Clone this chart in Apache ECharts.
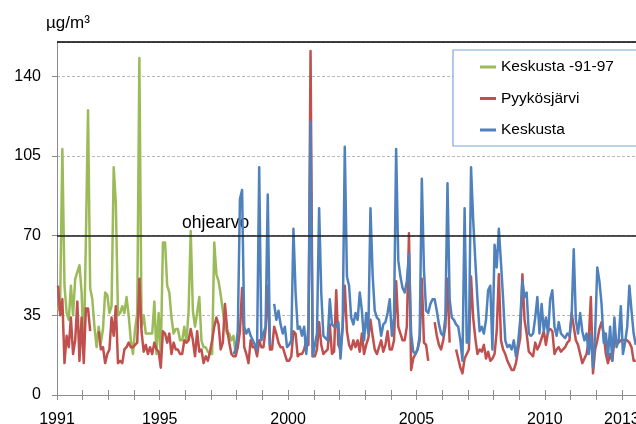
<!DOCTYPE html>
<html>
<head>
<meta charset="utf-8">
<script src="https://cdn.jsdelivr.net/npm/echarts@6/dist/echarts.min.js"></script>
<style>
  html, body { margin: 0; padding: 0; background: #fff; }
  #chart { width: 636px; height: 424px; }
</style>
</head>
<body>
<div id="chart"></div>
<script>
// Monthly mean concentrations (µg/m³). Each row is one calendar year, Jan..Dec.

// Keskusta -91-97: Jan 1991 – Dec 1997
const keskusta9197Start = [1991, 0];
const keskusta9197 = [
  37, 42, 108, 48, 36, 33, 48, 35, 51, 54, 57, 45,   // 1991
  18, 68, 125, 47, 42, 30, 21, 30, 23, 29, 45, 44,   // 1992
  36, 39, 100, 84, 35, 36, 39, 36, 43, 35, 24, 18,   // 1993
  29, 36, 148, 30, 35, 27, 27, 27, 27, 41, 18, 36,   // 1994
  17, 67, 67, 48, 45, 34, 27, 29, 29, 24, 24, 30,    // 1995
  23, 37, 72, 37, 30, 36, 43, 24, 21, 21, 19, 18,    // 1996
  18, 67, 53, 50, 44, 37, 30, 27, 27, 24, 26, 18     // 1997
];

// Pyykösjärvi: Jan 1991 – Jul 2013 (null = no measurement)
const pyykosjarviStart = [1991, 0];
const pyykosjarvi = [
  48, 35, 42, 14, 26, 21, 34, 18, 24, 41, 15, 34,    // 1991
  14, 38, 38, 28, null, null, null, 28, 20, 21, 14, 18, // 1992
  20, 34, 26, 39, 14, 15, 14, 20, 21, 23, 21, 21,    // 1993
  22, 23, 51, 28, 19, 22, 18, 21, 18, 23, 20, 19,    // 1994
  12, 28, 27, 23, 27, 18, 23, 20, 20, 18, 18, 24,    // 1995
  23, 24, 29, 24, 17, 28, 19, 20, 14, 17, 15, 19,    // 1996
  24, 30, 34, 31, 20, 23, 40, 29, 23, 18, 17, 17,    // 1997
  21, 28, 47, 21, 18, 14, 24, 21, 21, 17, 24, 21,    // 1998
  21, 29, 48, 20, 20, 30, 27, 23, 21, 21, 18, 15,    // 1999
  15, 17, 28, 27, 17, 18, 18, 20, 24, 22, 151, 17,   // 2000
  17, 20, 32, 22, 18, 19, 20, 31, 18, 19, 46, 22,    // 2001
  20, 30, 48, 28, 22, 20, 24, 21, 24, 19, 27, 18,    // 2002
  22, 25, 33, 26, 20, 18, 21, 24, 19, 22, 28, 20,    // 2003
  20, 24, 50, 30, 27, 24, 24, 30, 71, 11, 16, 18,    // 2004
  20, 24, 51, 23, 22, 15, null, null, 32, 26, 22, 20, // 2005
  24, 30, 51, 23, null, null, 20, 16, 12, 9.5, 16, 18, // 2006
  20, 52, 34, 25, 18, 20, 19, 22, 16, 19, 15, 16,    // 2007
  18, 28, 53, 24, 20, 18, 15, 13, 11, 11, 14, 20,    // 2008
  25, 53, 33, 27, 19, 18, 17, 23, 20, 22, 25, 28,    // 2009
  22, 28, 29, 28, 18, 20, 21, 19, 20, 21, 23, 24,    // 2010
  36, 30, 24, 22, 18, 14, 16, 18, 24, 43, 9.5, 20,   // 2011
  24, 29, 32, 27, 18, 14, 18, 15, 24, 24, 23, 24,    // 2012
  24, 24, 24, 23, 21, 15, 15                         // 2013
];

// Keskusta: Nov 1997 – Jul 2013
const keskustaStart = [1997, 10];
const keskusta = [
  18, 20,                                            // 1997 (Nov, Dec)
  28, 86, 90, 30, 27, 29, 26, 24, 22, 20, 100, 24,   // 1998
  27, 30, 88, 22, null, 40, 33, 37, 31, 27, 30, 21,  // 1999
  22, 24, 73, 45, 29, 30, 26, 30, 18, 30, 120, 17,   // 2000
  22, 27, 82, 45, 26, 25, 24, 42, 31, 30, 30, 32,    // 2001
  16, 30, 109, 52, 48, 34, 31, 36, 33, 45, 37, 24,   // 2002
  36, 27, 82, 53, 37, 34, 33, 26, 31, 32, 36, 42,    // 2003
  26, 34, 108, 59, 52, 47, 45, 50, 62, 27, 19, 18,   // 2004
  20, 26, 95, 55, 37, 36, 40, 42, 42, 37, 31, 27,    // 2005
  26, 34, 93, 42, 34, 33, 31, 30, 24, 15, 82, 23,    // 2006
  23, 100, 77, 59, 42, 28, 30, 27, 33, 46, 48, 20,   // 2007
  66, 56, 73, 58, 42, 24, 21, 22, 20, 24, 17, 23,    // 2008
  33, 50, 43, 45, 27, 26, 27, 34, 43, 27, 40, 28,    // 2009
  34, 27, 42, 46, 30, 26, 32, 27, 26, 25, 27, 26,    // 2010
  34, 64, 33, 27, 36, 28, 24, 27, 18, 27, 12, 27,    // 2011
  56, 50, 40, 23, 27, 17, 30, 15, 34, 21, 24, 39,    // 2012
  18, 23, 30, 48, 37, 27, 22                         // 2013
];

// Guideline value and axis labelling
const guidelineValue = 70;
const guidelineLabel = 'ohjearvo';
const yTicks = [0, 35, 70, 105, 140];
const yTop = 155;
const xLabelYears = [1991, 1995, 2000, 2005, 2010, 2013];
const xRange = [1991, 2013.55];
const unitLabel = 'µg/m³';

// Turn a monthly list into [decimal year at mid-month, value] pairs
function toMonthly(start, values) {
  return values.map(function (v, i) {
    const m = start[1] + i;
    return [start[0] + (m + 0.5) / 12, v];
  });
}

const FONT = '"Liberation Sans", Arial, sans-serif';
const GRID_TOP = 42, GRID_BOTTOM = 29;
const plotHeight = 424 - GRID_TOP - GRID_BOTTOM;

const chart = echarts.init(document.getElementById('chart'), null, { renderer: 'canvas' });

function lineSeries(name, color, data, extra) {
  return Object.assign({
    name: name,
    type: 'line',
    data: data,
    symbol: 'none',
    showSymbol: false,
    connectNulls: false,
    clip: true,
    lineStyle: { color: color, width: 2.5, join: 'round' },
    itemStyle: { color: color },
    emphasis: { disabled: true },
    animation: false
  }, extra || {});
}

const xLabelFormatter = function (v) {
  const r = Math.round(v);
  return (Math.abs(v - r) < 1e-6 && xLabelYears.indexOf(r) >= 0) ? String(r) : '';
};

const unitText = {
  type: 'text', left: 46, top: 15,
  style: { text: unitLabel, fontSize: 17, fontFamily: FONT, fill: '#000' }
};

chart.setOption({
  animation: false,
  backgroundColor: '#ffffff',
  grid: {
    left: 57, right: 0, top: GRID_TOP, bottom: GRID_BOTTOM,
    containLabel: false, outerBoundsMode: 'none'
  },
  xAxis: [
    {
      type: 'value',
      min: xRange[0],
      max: xRange[1],
      interval: 1,
      axisLine: { show: true, lineStyle: { color: '#8c8c8c', width: 1 } },
      axisTick: { show: true, inside: false, length: 5, lineStyle: { color: '#8c8c8c' } },
      axisLabel: {
        show: true, formatter: xLabelFormatter, fontSize: 16, color: '#000',
        fontFamily: FONT, margin: 17, showMaxLabel: false
      },
      splitLine: { show: false }
    },
    {
      // upper half of the crossing year ticks, placed on the bottom edge
      type: 'value',
      position: 'top',
      offset: -plotHeight,
      min: xRange[0],
      max: xRange[1],
      interval: 1,
      axisLine: { show: false },
      axisTick: { show: true, inside: false, length: 5, lineStyle: { color: '#8c8c8c' } },
      axisLabel: { show: false },
      splitLine: { show: false }
    }
  ],
  yAxis: {
    type: 'value',
    min: yTicks[0],
    max: yTop,
    interval: yTicks[1] - yTicks[0],
    axisLine: { show: true, lineStyle: { color: '#8c8c8c', width: 1 } },
    axisTick: { show: true, inside: false, length: 5, lineStyle: { color: '#8c8c8c' } },
    axisLabel: {
      fontSize: 16, color: '#000', fontFamily: FONT, margin: 16,
      showMaxLabel: false,
      formatter: function (v) { return yTicks.indexOf(v) >= 0 ? String(v) : ''; }
    },
    splitLine: { show: true, lineStyle: { color: '#b8b8b8', width: 1, type: [3, 2] } }
  },
  legend: {
    orient: 'vertical',
    left: 453,
    top: 50,
    padding: [9, 40, 8, 27],
    itemGap: 15.5,
    itemWidth: 16,
    itemHeight: 3,
    icon: 'rect',
    backgroundColor: '#ffffff',
    borderColor: '#7ea6d8',
    borderWidth: 1.2,
    textStyle: { fontSize: 15.5, color: '#000', fontFamily: FONT },
    data: ['Keskusta -91-97', 'Pyykösjärvi', 'Keskusta']
  },
  series: [
    lineSeries('Keskusta -91-97', '#9bbb59', toMonthly(keskusta9197Start, keskusta9197)),
    lineSeries('Pyykösjärvi', '#c0504d', toMonthly(pyykosjarviStart, pyykosjarvi)),
    lineSeries('Keskusta', '#4f81bd', toMonthly(keskustaStart, keskusta), {
      markLine: {
        silent: true,
        symbol: 'none',
        animation: false,
        label: { show: false },
        data: [
          { yAxis: guidelineValue, lineStyle: { color: '#1a1a1a', width: 1.5, type: 'solid' } },
          { yAxis: yTop, lineStyle: { color: '#000', width: 1.5, type: 'solid' } }
        ]
      }
    })
  ],
  graphic: [unitText]
});

// Guideline caption, placed just above the line at 70
const capPos = chart.convertToPixel({ xAxisIndex: 0, yAxisIndex: 0 }, [1995.87, guidelineValue]);
chart.setOption({
  graphic: [
    unitText,
    {
      type: 'text', x: capPos[0], y: capPos[1] - 3,
      style: {
        text: guidelineLabel, fontSize: 17.5, fontFamily: FONT, fill: '#000',
        textAlign: 'left', textVerticalAlign: 'bottom'
      }
    }
  ]
});
</script>
</body>
</html>
